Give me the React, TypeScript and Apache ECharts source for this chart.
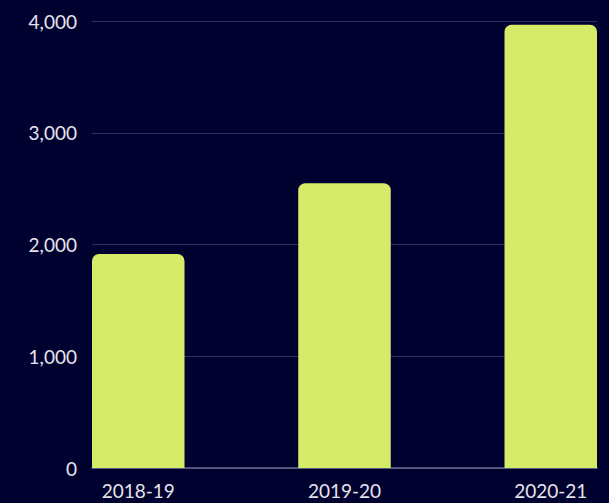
import React, { useEffect, useRef } from "react";
import * as echarts from "echarts";

const categories = ["2018-19", "2019-20", "2020-21"];
const values = [1915, 2548, 3966];
const yTicks = [0, 1000, 2000, 3000, 4000];

export default function App() {
  const ref = useRef<HTMLDivElement>(null);
  useEffect(() => {
    if (!ref.current) return;
    const chart = echarts.init(ref.current, undefined, { renderer: "svg" });
    const font = "Lato, 'Open Sans', sans-serif";
    chart.setOption({
      animation: false,
      backgroundColor: "#010130",
      grid: [
        { left: 92, right: 12, top: 21, bottom: 35 },
        { left: 138.25, right: 58.25, top: 21, bottom: 35 },
      ],
      xAxis: [
        {
          gridIndex: 0,
          type: "value",
          min: 0,
          max: 1,
          axisLine: { show: true, lineStyle: { color: "#6a6a8c", width: 1.5 } },
          axisTick: { show: false },
          axisLabel: { show: false },
          splitLine: { show: false },
        },
        {
          gridIndex: 1,
          type: "category",
          data: categories,
          boundaryGap: false,
          axisLine: { show: false },
          axisTick: { show: false },
          axisLabel: { color: "#e4e4ec", fontSize: 19, fontFamily: font, margin: 13 },
          splitLine: { show: false },
        },
      ],
      yAxis: [
        {
          gridIndex: 0,
          type: "value",
          min: yTicks[0],
          max: yTicks[yTicks.length - 1],
          interval: 1000,
          axisLine: { show: false },
          axisTick: { show: false },
          axisLabel: {
            color: "#e4e4ec",
            fontSize: 19,
            fontFamily: font,
            margin: 15,
            formatter: (v: number) => v.toLocaleString("en-US"),
          },
          splitLine: { lineStyle: { color: "#2f3060", width: 1 } },
        },
        {
          gridIndex: 1,
          type: "value",
          min: yTicks[0],
          max: yTicks[yTicks.length - 1],
          show: false,
          splitLine: { show: false },
        },
      ],
      series: [
        {
          type: "bar",
          xAxisIndex: 1,
          yAxisIndex: 1,
          data: values,
          barWidth: 92.5,
          z: 5,
          itemStyle: { color: "#d6eb67", borderRadius: [7, 7, 0, 0] },
        },
      ],
    });
    return () => chart.dispose();
  }, []);
  return (
    <div
      ref={ref}
      style={{ position: "fixed", left: 0, top: 0, width: 609, height: 503 }}
    />
  );
}
